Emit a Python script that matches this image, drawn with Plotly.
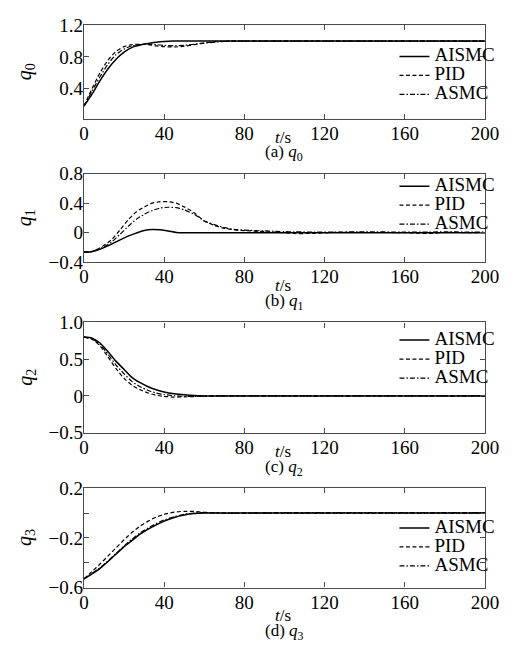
import plotly.graph_objects as go

# ---------------- data ----------------
series_names = ["AISMC", "PID", "ASMC"]

# (a) q0
t_a = [0, 4, 8, 12, 16, 20, 24, 28, 32, 36, 40, 45, 50, 55, 60, 65, 70, 75, 80, 200]
q0_aismc = [0.18, 0.33, 0.50, 0.65, 0.77, 0.86, 0.92, 0.95, 0.97, 0.985, 0.995, 1.0, 1.0, 1.0, 1.0, 1.0, 1.0, 1.0, 1.0, 1.0]
q0_pid = [0.18, 0.40, 0.60, 0.76, 0.87, 0.93, 0.955, 0.96, 0.955, 0.94, 0.93, 0.925, 0.935, 0.955, 0.975, 0.99, 0.998, 1.0, 1.0, 1.0]
q0_asmc = [0.18, 0.37, 0.55, 0.71, 0.83, 0.90, 0.94, 0.955, 0.96, 0.955, 0.945, 0.94, 0.945, 0.96, 0.975, 0.985, 0.995, 1.0, 1.0, 1.0]

# (b) q1
t_b = [0, 3, 6, 10, 14, 18, 22, 26, 30, 34, 38, 42, 46, 50, 55, 60, 65, 70, 75, 80, 90, 100,
       105, 115, 125, 140, 160, 172, 180, 190, 200]
q1_aismc = [-0.26, -0.26, -0.24, -0.20, -0.15, -0.095, -0.045, -0.005, 0.03, 0.045, 0.04, 0.025, 0.005, 0.0,
            0.0, 0.0, 0.0, 0.0, 0.0, 0.0, 0.0, 0.0, 0.0, 0.0, 0.0, 0.0, 0.0, 0.0, 0.0, 0.0, 0.0]
q1_pid = [-0.26, -0.26, -0.23, -0.17, -0.087, 0.04, 0.175, 0.28, 0.35, 0.40, 0.42, 0.42, 0.40, 0.35, 0.27,
          0.16, 0.10, 0.06, 0.04, 0.03, 0.015, 0.0, -0.01, -0.008, 0.005, 0.004, 0.002, -0.01, 0.004, 0.003, 0.003]
q1_asmc = [-0.26, -0.26, -0.235, -0.19, -0.12, -0.02, 0.087, 0.18, 0.25, 0.30, 0.335, 0.345, 0.34, 0.31, 0.25,
           0.16, 0.11, 0.07, 0.045, 0.035, 0.025, 0.015, 0.012, 0.01, 0.01, 0.012, 0.01, 0.01, 0.012, 0.01, 0.01]

# (c) q2
t_c = [0, 4, 8, 12, 16, 20, 24, 28, 32, 36, 40, 45, 50, 55, 60, 65, 200]
q2_aismc = [0.8, 0.785, 0.72, 0.60, 0.47, 0.36, 0.25, 0.18, 0.125, 0.085, 0.055, 0.03, 0.015, 0.005, 0.0, 0.0, 0.0]
q2_pid = [0.8, 0.77, 0.68, 0.53, 0.37, 0.24, 0.145, 0.085, 0.04, 0.01, -0.005, -0.015, -0.012, -0.008, -0.004, 0.0, 0.0]
q2_asmc = [0.8, 0.78, 0.70, 0.565, 0.42, 0.30, 0.195, 0.125, 0.075, 0.04, 0.02, 0.003, -0.005, -0.005, -0.002, 0.0, 0.0]

# (d) q3
t_d = [0, 4, 8, 12, 16, 20, 24, 28, 32, 36, 40, 45, 50, 55, 60, 65, 70, 100, 150, 200]
q3_aismc = [-0.53, -0.49, -0.445, -0.39, -0.33, -0.27, -0.22, -0.17, -0.13, -0.095, -0.065, -0.035, -0.015, -0.004,
            0.0, 0.0, 0.0, 0.0, 0.0, 0.0]
q3_pid = [-0.53, -0.47, -0.41, -0.345, -0.28, -0.215, -0.155, -0.105, -0.065, -0.032, -0.01, 0.008, 0.014, 0.013,
          0.006, 0.002, 0.0, 0.0, 0.0, 0.0]
q3_asmc = [-0.53, -0.485, -0.44, -0.385, -0.325, -0.265, -0.21, -0.16, -0.12, -0.085, -0.055, -0.03, -0.01, 0.0,
           0.003, 0.002, 0.0, 0.003, 0.003, 0.003]

x_ticks = [0, 40, 80, 120, 160, 200]
panels = [
    dict(t=t_a, ys=[q0_aismc, q0_pid, q0_asmc], yrange=[0.02, 1.2],
         yticks=[1.2, 0.8, 0.4], ytext=["1.2", "0.8", "0.4"], label="(a) ", sub="0"),
    dict(t=t_b, ys=[q1_aismc, q1_pid, q1_asmc], yrange=[-0.4, 0.8],
         yticks=[0.8, 0.4, 0, -0.4], ytext=["0.8", "0.4", "0", "\u22120.4"], label="(b) ", sub="1"),
    dict(t=t_c, ys=[q2_aismc, q2_pid, q2_asmc], yrange=[-0.5, 1.0],
         yticks=[1.0, 0.5, 0, -0.5], ytext=["1.0", "0.5", "0", "\u22120.5"], label="(c) ", sub="2"),
    dict(t=t_d, ys=[q3_aismc, q3_pid, q3_asmc], yrange=[-0.6, 0.2],
         yticks=[0.2, 0, -0.2, -0.4, -0.6], ytext=["0.2", "", "\u22120.2", "", "\u22120.6"], label="(d) ", sub="3"),
]

# ---------------- layout geometry (pixels in 522x657 page) ----------------
W, H = 522, 657
x_left, x_right = 82, 498
panel_px = [(15.7, 112.3), (169, 260.7), (322.7, 436.7), (494, 596.7)]
legend_first_px = [46, 180, 339, 533]
ts_px = [132, 285, 456, 626]
cap_px = [148, 302, 473, 643]

FONT = "Liberation Serif, Times New Roman, serif"
dashes = ["solid", "4px,2.5px", "5px,2px,1.5px,2px"]
widths = [1.5, 1.2, 1.2]

fig = go.Figure()
annotations = []
layout = {}
for i, p in enumerate(panels):
    n = "" if i == 0 else str(i + 1)
    xa, ya = "x" + n, "y" + n
    leg = "legend" + n
    for k, name in enumerate(series_names):
        fig.add_trace(go.Scatter(
            x=p["t"], y=p["ys"][k], mode="lines",
            name="<span style='font-size:19px'>" + name + "</span>",
            line=dict(color="black", width=widths[k], dash=dashes[k], shape="spline", smoothing=0.6),
            xaxis=xa, yaxis=ya, legend=leg, showlegend=True))
    top, bot = panel_px[i]
    axis_common = dict(showline=True, linecolor="#4a4a4a", linewidth=1.3, mirror="ticks",
                       ticks="inside", ticklen=5, tickcolor="#4a4a4a", tickwidth=1,
                       showgrid=False, zeroline=False,
                       tickfont=dict(family=FONT, size=19, color="black"))
    layout["xaxis" + n] = dict(domain=[x_left / W, x_right / W], range=[0, 200],
                               tickvals=x_ticks, ticktext=[str(v) for v in x_ticks],
                               ticklabelstandoff=-3, anchor=ya, **axis_common)
    layout["yaxis" + n] = dict(domain=[1 - bot / H, 1 - top / H], range=p["yrange"],
                               tickvals=p["yticks"], ticktext=p["ytext"],
                               ticklabelstandoff=-4, anchor=xa, **axis_common)
    layout[leg] = dict(x=0.985, xanchor="right", y=1 - (legend_first_px[i] - 13) / H, yanchor="top",
                       bgcolor="rgba(0,0,0,0)", borderwidth=0, itemwidth=30,
                       font=dict(family=FONT, size=12, color="black"),
                       tracegroupgap=0)
    annotations.append(dict(x=0.552, y=1 - ts_px[i] / H, xref="paper", yref="paper",
                            xanchor="center", yanchor="middle",
                            text="<i>t</i>/s", showarrow=False,
                            font=dict(family=FONT, size=17, color="black")))
    annotations.append(dict(x=0.555, y=1 - cap_px[i] / H, xref="paper", yref="paper",
                            xanchor="center", yanchor="middle",
                            text=p["label"] + "<i>q</i><sub>" + p["sub"] + "</sub>", showarrow=False,
                            font=dict(family=FONT, size=17, color="black")))
    annotations.append(dict(x=22 / W, y=1 - (top + bot) / 2 / H, xref="paper", yref="paper",
                            xanchor="center", yanchor="middle",
                            text="<i>q</i><sub>" + p["sub"] + "</sub>", showarrow=False, textangle=-90,
                            font=dict(family=FONT, size=20, color="black")))

fig.update_layout(width=W, height=H, margin=dict(l=0, r=0, t=0, b=0),
                  paper_bgcolor="white", plot_bgcolor="white",
                  annotations=annotations, **layout)

fig.write_html("out.html")
